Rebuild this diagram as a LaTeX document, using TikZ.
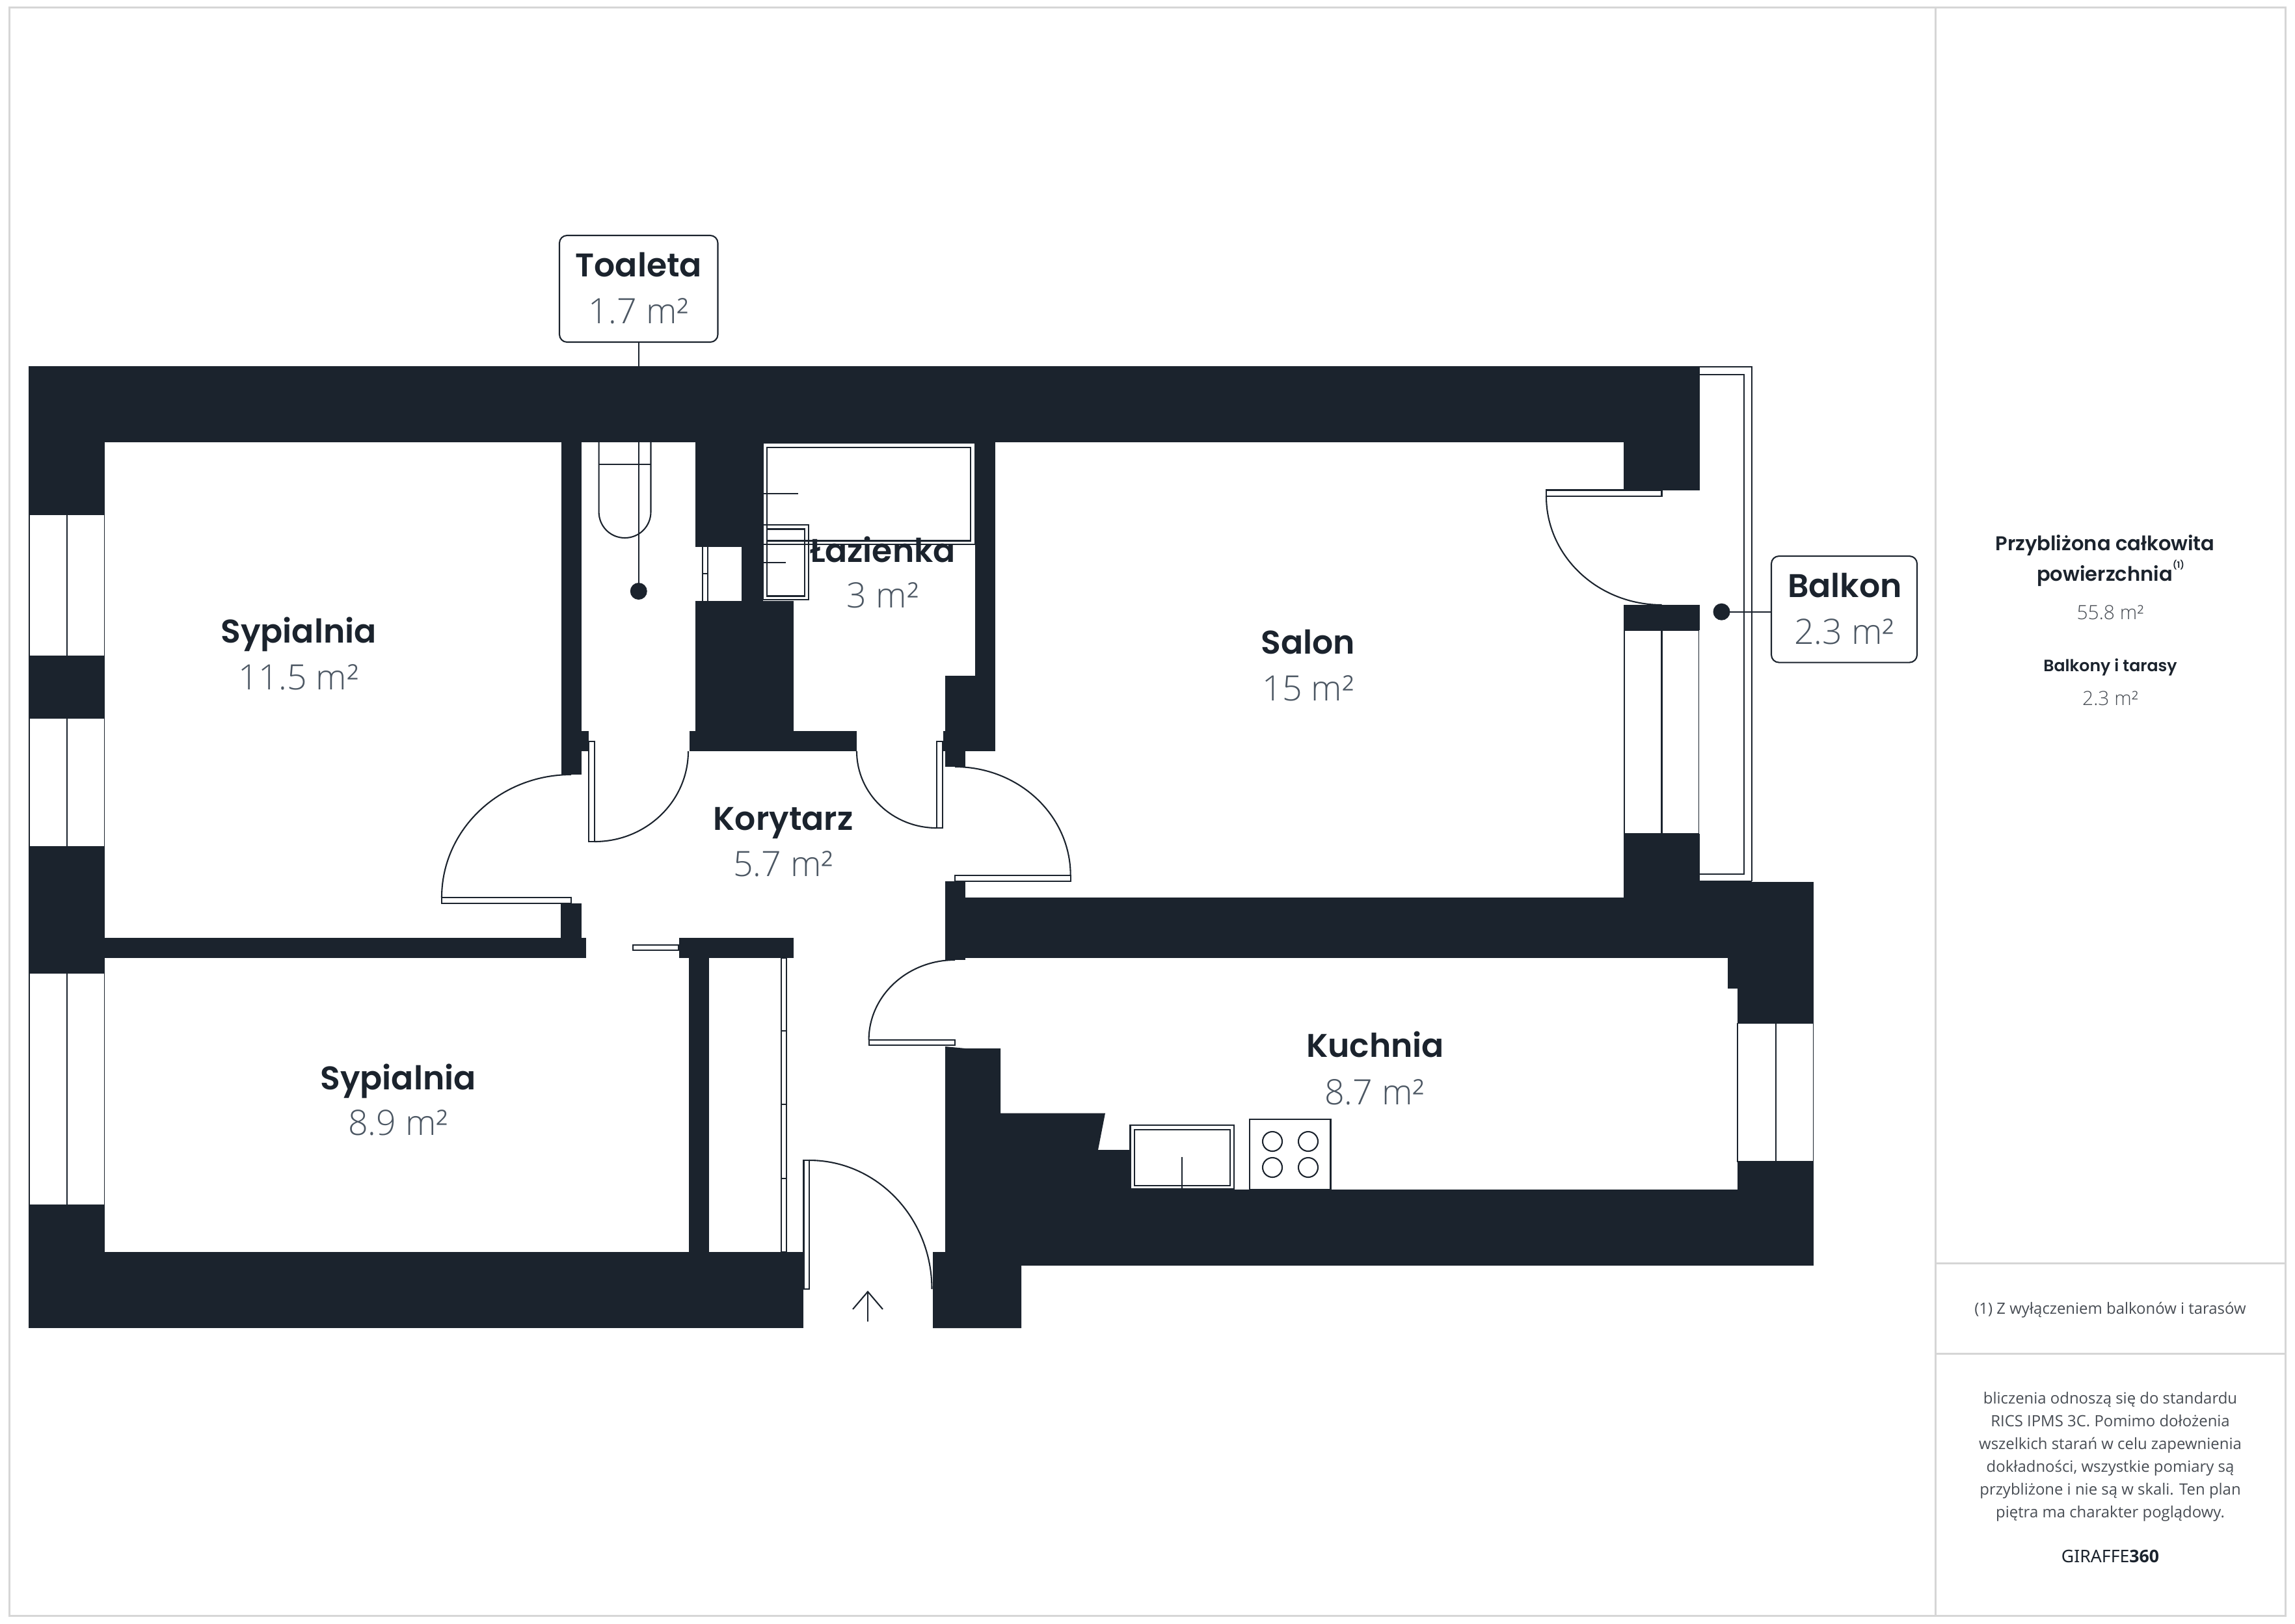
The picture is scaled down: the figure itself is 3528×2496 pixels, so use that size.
\documentclass[tikz,border=0pt]{standalone}
\usepackage{fontspec}
\usetikzlibrary{calc}
\setmainfont{Open Sans}
\newfontfamily\headfont{Poppins}[UprightFont=* SemiBold]
\newfontfamily\numfont{Open Sans}[UprightFont=* Light]
\newfontfamily\brandfont{Noto Sans}
\definecolor{wall}{HTML}{1B232D}
\definecolor{numgrey}{HTML}{4C5763}
\definecolor{framegrey}{HTML}{D6D6D6}
\definecolor{notegrey}{HTML}{484D54}
\tikzset{
  x=0.24pt,y=-0.24pt,
  wallfill/.style={fill=wall,draw=none},
  thinline/.style={draw=wall,line width=0.5pt},
  frameline/.style={draw=framegrey,line width=0.72pt},
  windowbox/.style={fill=white,draw=wall,line width=0.45pt},
  leaf/.style={fill=white,draw=wall,line width=0.5pt},
  roomname/.style={anchor=base,text=wall,inner sep=0pt,font=\headfont\fontsize{12.1}{14}\selectfont},
  roomarea/.style={anchor=base,text=numgrey,inner sep=0pt,font=\numfont\fontsize{12.9}{14}\selectfont},
  callout/.style={draw=wall,line width=0.5pt,fill=white,rounded corners=2.8pt,inner sep=0pt},
  leader/.style={circle,fill=wall,inner sep=0pt,minimum size=6.24pt},
  leaderline/.style={draw=wall,line width=0.5pt},
  sidehead/.style={anchor=base,text=wall,inner sep=0pt,font=\headfont\fontsize{7.35}{9}\selectfont},
  sidehsmall/.style={anchor=base,text=wall,inner sep=0pt,font=\headfont\fontsize{6.05}{8}\selectfont},
  sidearea/.style={anchor=base,text=notegrey,inner sep=0pt,font=\numfont\fontsize{7.2}{8}\selectfont},
  sidenote/.style={text=notegrey,inner sep=0pt,align=center,font=\fontsize{5.74}{8.4}\selectfont},
}
\newcommand{\qarc}[6]{\draw[thinline] (#1,#2) .. controls ($(#1,#2)!0.5523!(#3,#4)$) and ($(#5,#6)!0.5523!(#3,#4)$) .. (#5,#6);}
\begin{document}
\begin{tikzpicture}
\useasboundingbox (0,0) rectangle (3528,2496);
\fill[white] (0,0) rectangle (3528,2496);
% frame
\draw[frameline] (14,11) rectangle (3513,2484);
\draw[frameline] (2975,11) -- (2975,2484);
\draw[frameline] (2975,1942) -- (3513,1942);
\draw[frameline] (2975,2081) -- (3513,2081);
% walls
\fill[wallfill] (44,563) rectangle (2612.5,680);
\fill[wallfill] (44,680) rectangle (161,2042);
\fill[wallfill] (44,1925) rectangle (1235,2042);
\fill[wallfill] (161,1442) rectangle (901,1473);
\fill[wallfill] (863,680) rectangle (894,1191);
\fill[wallfill] (894,1124) rectangle (905,1155);
\fill[wallfill] (862,1389) rectangle (894,1442);
\fill[wallfill] (1069,680) rectangle (1173,924);
\fill[white] (1069,841) rectangle (1140,924);
\fill[wallfill] (1069,924) rectangle (1220,1155);
\fill[wallfill] (1220,1124) rectangle (1317,1155);
\fill[wallfill] (1060,1124) rectangle (1069,1155);
\fill[wallfill] (1499,680) rectangle (1530,1155);
\fill[wallfill] (1453,1039) rectangle (1530,1155);
\fill[wallfill] (1450,1124) rectangle (1453,1155);
\fill[wallfill] (1453,1155) rectangle (1484,1179);
\fill[wallfill] (1043.5,1442) rectangle (1220,1473);
\fill[wallfill] (1059,1473) rectangle (1090,1925);
\fill[wallfill] (1453,1355) rectangle (1484,1380);
\fill[wallfill] (1453,1380) rectangle (2656,1473);
\fill[wallfill] (1453,1473) rectangle (1484,1476);
\fill[wallfill] (2496,680) rectangle (2612.5,753.5);
\fill[wallfill] (2496,930) rectangle (2612.5,969);
\fill[wallfill] (2496,1282) rectangle (2612.5,1380);
\fill[wallfill] (2612,1356) rectangle (2788,1473);
\fill[wallfill] (2656,1473) rectangle (2788,1520);
\fill[wallfill] (2671,1520) rectangle (2788,1573.5);
\fill[wallfill] (2671,1786) rectangle (2788,1946);
\fill[wallfill] (1453,1829) rectangle (2788,1946);
\fill[wallfill] (1453,1609) -- (1484,1612) -- (1538,1612) -- (1538,1711.5) -- (1699,1711.5) -- (1688,1768) -- (1737.5,1768) -- (1737.5,1830) -- (1570,1946) -- (1570,2042) -- (1434,2042) -- (1434,1925) -- (1453,1925) -- cycle;
% windows
\foreach \ya/\yb in {791/1009,1104/1302,1496/1853}{
  \draw[windowbox] (45,\ya) rectangle (160.5,\yb);
  \draw[thinline] (102.7,\ya) -- (102.7,\yb);
}
\draw[windowbox] (2497,969) rectangle (2611.5,1282);
\draw[thinline] (2554.5,969) -- (2554.5,1282);
\draw[windowbox] (2671,1573.5) rectangle (2787.5,1786);
\draw[thinline] (2730,1573.5) -- (2730,1786);
% balcony
\draw[thinline] (2612.5,564) -- (2693,564) -- (2693,1355);
\draw[thinline] (2612.5,1355) -- (2693,1355);
\draw[thinline] (2612.5,575.6) -- (2681,575.6) -- (2681,1344) -- (2612.5,1344);
% doors
\draw[leaf] (905,1140) rectangle (914,1294);
\qarc{914}{1294}{1058}{1294}{1058}{1155}
\draw[leaf] (1440,1140) rectangle (1449,1273);
\qarc{1440}{1273}{1317}{1273}{1317}{1155}
\draw[leaf] (679,1380) rectangle (878,1389);
\qarc{878}{1191}{679}{1191}{679}{1380}
\draw[leaf] (1468,1346) rectangle (1645.7,1355);
\qarc{1468}{1179}{1645.7}{1179}{1645.7}{1346}
\draw[leaf] (1335.6,1599) rectangle (1468,1607);
\qarc{1468}{1476}{1335.6}{1476}{1335.6}{1599}
\draw[leaf] (1235.5,1784) rectangle (1244,1982);
\qarc{1244}{1784}{1432.5}{1784}{1432.5}{1982}
\draw[leaf] (2377,753.5) rectangle (2554.5,763);
\qarc{2554.5}{930}{2377}{930}{2377}{763}
\draw[leaf] (973,1453) rectangle (1043.5,1461);
% entry arrow
\draw[thinline] (1334,2032) -- (1334,1986);
\draw[thinline] (1311,2013) -- (1334,1986) -- (1357,2013);
% closet
\draw[leaf] (1201,1473) rectangle (1209,1925);
\draw[thinline] (1201,1585) -- (1209,1585);
\draw[thinline] (1201,1698) -- (1209,1698);
\draw[thinline] (1201,1812) -- (1209,1812);
% duct
\draw[thinline] (1080,841) -- (1080,924);
\draw[thinline] (1088,841) -- (1088,924);
\draw[thinline] (1080,882) -- (1088,882);
% toilet
\draw[thinline] (920.6,680) -- (920.6,787) .. controls (920.6,809) and (938,827) .. (960.5,827) .. controls (983,827) and (1000.5,809) .. (1000.5,787) -- (1000.5,680);
\draw[thinline] (920.6,714) -- (1000.5,714);
% bath
\draw[thinline] (1173,681) rectangle (1499,837.4);
\draw[thinline] (1179,688) rectangle (1492,831.5);
\draw[thinline] (1173,759) -- (1226.6,759);
% sink
\draw[thinline] (1173,807) rectangle (1243,922);
\draw[thinline] (1179,813.5) rectangle (1237,916.5);
\draw[thinline] (1173,865) -- (1207.7,865);
% oven
\draw[thinline] (1737.5,1730) rectangle (1897,1828);
\draw[draw=wall,line width=0.7pt] (1744,1737) rectangle (1891,1823);
\draw[thinline] (1817,1779) -- (1817,1829);
% hob
\draw[thinline] (1921.4,1721) rectangle (2045.5,1829);
\foreach \cx in {1956,2011}{\foreach \cy in {1755,1795}{\draw[thinline] (\cx,\cy) circle[radius=15];}}
% leaders and callouts
\node[callout,minimum width=58.44pt,minimum height=39.36pt] (toaletaBox) at (981.75,444) {};
\node[callout,minimum width=53.76pt,minimum height=39.24pt] (balkonBox) at (2835,936.8) {};
\node[leader] (toaletaDot) at (981.75,909) {};
\node[leader] (balkonDot) at (2646.5,940.7) {};
\draw[leaderline] (toaletaBox.south) -- (toaletaDot.center);
\draw[leaderline] (balkonDot.center) -- (balkonBox.west |- balkonDot.center);
% room labels
\node[roomname] (n1) at (459,988) {Sypialnia};
\node[roomarea] (a1) at (459,1060) {11.5 m²};
\node[roomname] (n2) at (612,1675) {Sypialnia};
\node[roomarea] (a2) at (612,1745) {8.9 m²};
\node[roomname] (n3) at (1357,864) {Łazienka};
\node[roomarea] (a3) at (1357,934) {3 m²};
\node[roomname] (n4) at (981.75,425) {Toaleta};
\node[roomarea] (a4) at (981.75,497) {1.7 m²};
\node[roomname] (n5) at (1204,1276) {Korytarz};
\node[roomarea] (a5) at (1204,1347) {5.7 m²};
\node[roomname] (n6) at (2011,1005) {Salon};
\node[roomarea] (a6) at (2011,1077) {15 m²};
\node[roomname] (n7) at (2114,1625) {Kuchnia};
\node[roomarea] (a7) at (2113,1698) {8.7 m²};
\node[roomname] (n8) at (2836,918) {Balkon};
\node[roomarea] (a8) at (2835,990) {2.3 m²};
% side panel
\node[sidehead] (s1) at (3236,846) {Przybliżona całkowita};
\node[sidehead] (s2) at (3244.5,893) {powierzchnia\raisebox{1.15ex}{\fontsize{3.2}{4}\selectfont (1)}};
\node[sidearea] (s3) at (3244,952) {55.8 m²};
\node[sidehsmall] (s4) at (3244,1032) {Balkony i tarasy};
\node[sidearea] (s5) at (3244,1084) {2.3 m²};
\node[sidenote,anchor=base] (s6) at (3244,2020) {(1) Z wyłączeniem balkonów i tarasów};
\node[sidenote] (s7) at (3244,2240) {bliczenia odnoszą się do standardu\\RICS IPMS 3C. Pomimo dołożenia\\wszelkich starań w celu zapewnienia\\dokładności, wszystkie pomiary są\\przybliżone i nie są w skali. Ten plan\\piętra ma charakter poglądowy.};
\node[anchor=base,text=wall,inner sep=0pt,font=\brandfont\fontsize{6.4}{8}\selectfont] (s8) at (3244,2402) {GIRAFFE{\rmfamily\bfseries 360}};
\end{tikzpicture}
\end{document}
